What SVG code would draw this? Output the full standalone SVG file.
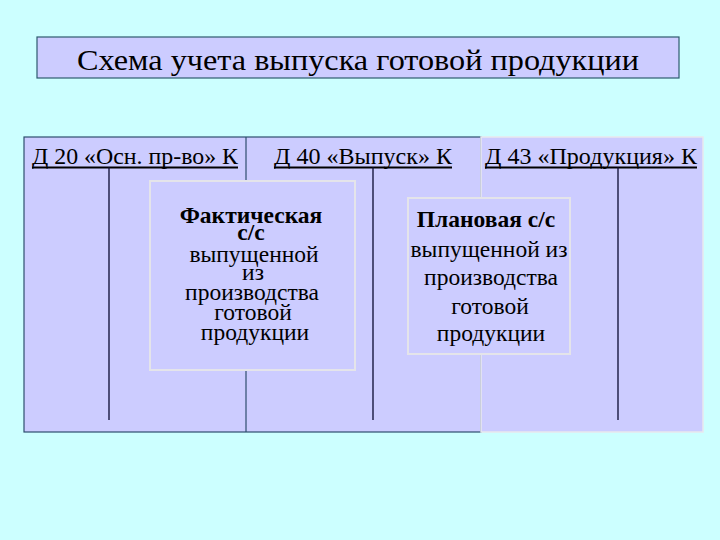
<svg xmlns="http://www.w3.org/2000/svg" width="720" height="540" viewBox="0 0 720 540" font-family="'Liberation Serif', 'DejaVu Serif', serif">
<style>
text{font-family:"Liberation Serif","DejaVu Serif",serif;fill:#000}
.hdr{font-size:23px}
.body{font-size:23.5px;text-anchor:middle}
.b{font-weight:bold}
.panel{fill:#ccccff}
.tline{stroke:#0a0a30;stroke-width:1.3}
.ul{stroke:#000;stroke-width:2.2}
.lite{fill:#ccccff;stroke:#e4e4ea;stroke-width:2}
</style>
<rect width="720" height="540" fill="#ccffff"/>
<g id="title">
<rect x="37" y="37" width="642" height="41" fill="#ccccff" stroke="#2e5a6e" stroke-width="1.2"/>
<text x="358" y="70" font-size="30" text-anchor="middle" textLength="562" lengthAdjust="spacingAndGlyphs">Схема учета выпуска готовой продукции</text>
</g>
<g id="left-panel">
<rect x="24" y="137" width="457" height="295" class="panel" stroke="#2e4e6e" stroke-width="1.2"/>
<line x1="246" y1="137" x2="246" y2="432" stroke="#2e4e6e" stroke-width="1.2"/>
</g>
<g id="right-panel">
<rect x="481" y="137" width="222" height="295" class="panel" stroke="#e8e8ee" stroke-width="1.5"/>
</g>
<g id="account-20">
<text class="hdr" x="32" y="164" textLength="206" lengthAdjust="spacingAndGlyphs">Д 20 «Осн. пр-во» К</text>
<line class="ul" x1="32" y1="167.5" x2="238" y2="167.5"/>
<line class="tline" x1="109" y1="167" x2="109" y2="420"/>
</g>
<g id="account-40">
<text class="hdr" x="274" y="164" textLength="178" lengthAdjust="spacingAndGlyphs">Д 40 «Выпуск» К</text>
<line class="ul" x1="274" y1="167.5" x2="452" y2="167.5"/>
<line class="tline" x1="373" y1="167" x2="373" y2="420"/>
</g>
<g id="account-43">
<text class="hdr" x="485" y="164" textLength="212" lengthAdjust="spacingAndGlyphs">Д 43 «Продукция» К</text>
<line class="ul" x1="485" y1="167.5" x2="697" y2="167.5"/>
<line class="tline" x1="618" y1="167" x2="618" y2="420"/>
</g>
<g id="box-fact">
<rect x="150" y="181" width="205" height="189" class="lite"/>
<text class="body b" x="251" y="223" font-size="22">Фактическая</text>
<text class="body b" x="251" y="240" font-size="22">с/с</text>
<text class="body" x="254" y="262">выпущенной</text>
<text class="body" x="253" y="280">из</text>
<text class="body" x="252" y="300">производства</text>
<text class="body" x="253" y="320">готовой</text>
<text class="body" x="255" y="340">продукции</text>
</g>
<g id="box-plan">
<rect x="408" y="198" width="162" height="156" class="lite"/>
<text class="body b" x="486" y="227" font-size="22">Плановая с/с</text>
<text class="body" x="489" y="257">выпущенной из</text>
<text class="body" x="491" y="285">производства</text>
<text class="body" x="490" y="314">готовой</text>
<text class="body" x="491" y="341">продукции</text>
</g>
<g id="connectors"></g>
</svg>
